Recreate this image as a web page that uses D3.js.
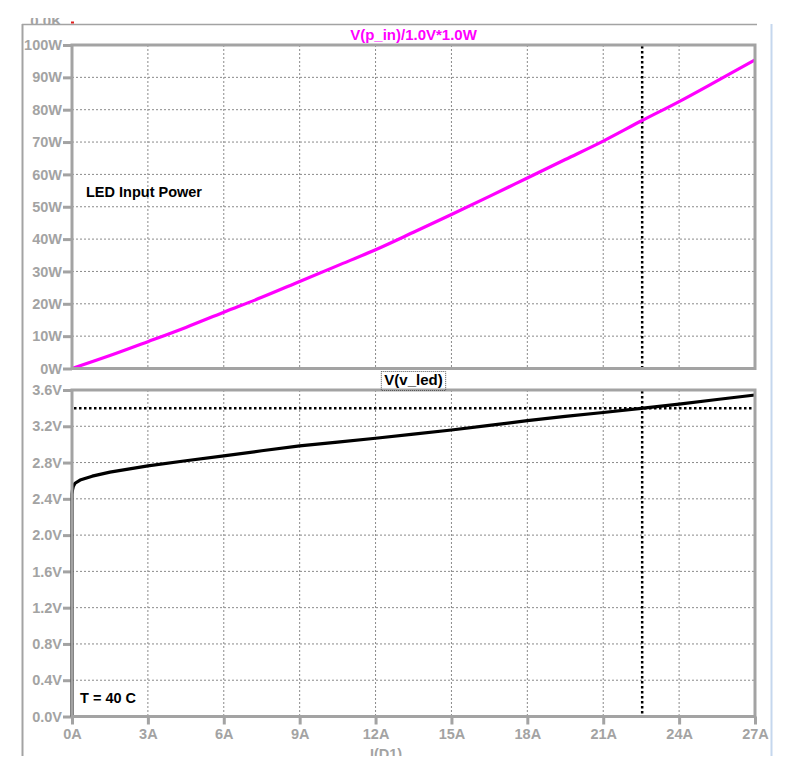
<!DOCTYPE html>
<html><head><meta charset="utf-8">
<script src="https://cdn.jsdelivr.net/npm/d3@7"></script>
<style>
html,body{margin:0;padding:0;background:#fff;}
svg{display:block;font-family:"Liberation Sans",Arial,sans-serif;}
</style></head>
<body><svg id="c" width="791" height="782"></svg>
<script>
// ---- data ----
const xTicks = [0,3,6,9,12,15,18,21,24,27];
const powerTicks = [0,10,20,30,40,50,60,70,80,90,100];
const voltTicks = [0,0.4,0.8,1.2,1.6,2.0,2.4,2.8,3.2,3.6];

const powerI = [0,1.5,3,4.5,6,7.5,9,10.5,12,13.5,15,16.5,18,19.5,21,22.5,24,25.5,27];
const powerW = [0,4.0,8.3,12.7,17.4,22.0,26.9,31.8,36.7,42.1,47.6,53.2,58.9,64.6,70.3,76.5,82.5,88.9,95.4];

const voltI = [0,0,0.02,0.05,0.12,0.32,0.8,1.5,3,4.5,6,7.5,9,10.5,12,13.5,15,16.5,18,19.5,21,22.5,24,25.5,27];
const voltV = [0,2.45,2.5,2.535,2.572,2.607,2.65,2.695,2.763,2.82,2.873,2.93,2.983,3.025,3.068,3.113,3.159,3.21,3.262,3.31,3.352,3.397,3.445,3.495,3.545];

const cursorI = 22.54;
const cursorV = 3.398;

const topTitle = "V(p_in)/1.0V*1.0W";
const botTitle = "V(v_led)";
const xLabel = "I(D1)";

// ---- layout ----
const svg = d3.select("#c");
const L = 72, R = 755;
const x = d3.scaleLinear().domain([0,27]).range([L,R]);
const yP = d3.scaleLinear().domain([0,100]).range([368.5,45]);
const yV = d3.scaleLinear().domain([0,3.6]).range([716.5,390]);
const gray = "#a3a3a3";
const gridC = "#8a8a8a";

const defs = svg.append("defs");
defs.append("clipPath").attr("id","win")
  .append("rect").attr("x",0).attr("y",0).attr("width",791).attr("height",756);
defs.append("clipPath").attr("id","topcut")
  .append("rect").attr("x",0).attr("y",18).attr("width",791).attr("height",6);
const root = svg.append("g").attr("clip-path","url(#win)");

// remnants of panel above
svg.append("g").attr("clip-path","url(#topcut)")
  .append("text").attr("x",62).attr("y",25.5).attr("text-anchor","end")
  .attr("font-size",15).attr("font-weight","bold").attr("fill",gray).text("0.0K");
svg.append("rect").attr("x",71).attr("y",21.5).attr("width",3).attr("height",2).attr("fill","#e02020");

// outer window lines
root.append("line").attr("x1",22).attr("x2",757).attr("y1",24.5).attr("y2",24.5).attr("stroke",gray).attr("stroke-width",1.5);
root.append("line").attr("x1",22.5).attr("x2",22.5).attr("y1",24).attr("y2",756).attr("stroke",gray).attr("stroke-width",2);
root.append("line").attr("x1",771.5).attr("x2",771.5).attr("y1",24).attr("y2",756).attr("stroke","#c5d7ee").attr("stroke-width",2);

function grid(g, yScale, yt, yr){
  g.selectAll(".vg").data(xTicks.slice(1,-1)).join("line")
    .attr("x1",d=>x(d)).attr("x2",d=>x(d)).attr("y1",yr[0]).attr("y2",yr[1])
    .attr("stroke",gridC).attr("stroke-width",1).attr("stroke-dasharray","2,2");
  g.selectAll(".hg").data(yt.slice(1,-1)).join("line")
    .attr("x1",L).attr("x2",R).attr("y1",d=>yScale(d)).attr("y2",d=>yScale(d))
    .attr("stroke",gridC).attr("stroke-width",1).attr("stroke-dasharray","2,2");
}
function styleAxis(g){
  g.select(".domain").remove();
  g.selectAll(".tick line").attr("stroke",gray).attr("stroke-width",3);
  g.selectAll(".tick text").attr("fill",gray).attr("font-size",14.5).attr("font-weight","bold")
    .attr("font-family","Liberation Sans, Arial, sans-serif");
}

// ---- top panel ----
const gt = root.append("g");
grid(gt, yP, powerTicks, [45,368.5]);
const axP = gt.append("g").attr("transform",`translate(${L},0)`)
  .call(d3.axisLeft(yP).tickValues(powerTicks).tickFormat(d=>d+"W").tickSize(9).tickPadding(1));
styleAxis(axP);
gt.append("line").attr("x1",x(cursorI)).attr("x2",x(cursorI)).attr("y1",46).attr("y2",367)
  .attr("stroke","#000").attr("stroke-width",2.5).attr("stroke-dasharray","2.5,2.5");
gt.append("path").datum(powerI.map((d,i)=>[d,powerW[i]]))
  .attr("d", d3.line().x(d=>x(d[0])).y(d=>yP(d[1])).curve(d3.curveMonotoneX))
  .attr("fill","none").attr("stroke","#ff00ff").attr("stroke-width",3.2);
gt.append("rect").attr("x",L).attr("y",45).attr("width",R-L).attr("height",368.5-45)
  .attr("fill","none").attr("stroke",gray).attr("stroke-width",3);
gt.append("text").attr("x",(L+R)/2).attr("y",40).attr("text-anchor","middle")
  .attr("font-size",15).attr("font-weight","bold").attr("fill","#ff00ff").text(topTitle);
gt.append("text").attr("x",86).attr("y",197)
  .attr("font-size",14.5).attr("font-weight","bold").attr("fill","#000").text("LED Input Power");

// ---- bottom panel ----
const gb = root.append("g");
grid(gb, yV, voltTicks, [390,716.5]);
const axV = gb.append("g").attr("transform",`translate(${L},0)`)
  .call(d3.axisLeft(yV).tickValues(voltTicks).tickFormat(d=>d3.format(".1f")(d)+"V").tickSize(9).tickPadding(1));
styleAxis(axV);
const axX = gb.append("g").attr("transform",`translate(0,716.5)`)
  .call(d3.axisBottom(x).tickValues(xTicks).tickFormat(d=>d+"A").tickSize(8).tickPadding(4));
styleAxis(axX);
gb.append("line").attr("x1",x(cursorI)).attr("x2",x(cursorI)).attr("y1",391).attr("y2",715)
  .attr("stroke","#000").attr("stroke-width",2.5).attr("stroke-dasharray","2.5,2.5");
gb.append("line").attr("x1",L+2).attr("x2",R-1).attr("y1",yV(cursorV)).attr("y2",yV(cursorV))
  .attr("stroke","#000").attr("stroke-width",2.5).attr("stroke-dasharray","2.5,2.5");
gb.append("path").datum(voltI.map((d,i)=>[d,voltV[i]]))
  .attr("d", d3.line().x(d=>x(d[0])).y(d=>yV(d[1])).curve(d3.curveLinear))
  .attr("fill","none").attr("stroke","#000").attr("stroke-width",3.2).attr("stroke-linejoin","round");
gb.append("rect").attr("x",L).attr("y",390).attr("width",R-L).attr("height",716.5-390)
  .attr("fill","none").attr("stroke",gray).attr("stroke-width",3);
gb.append("text").attr("x",80).attr("y",703)
  .attr("font-size",14.5).attr("font-weight","bold").attr("fill","#000").text("T = 40 C");
const bt = gb.append("text").attr("x",(L+R)/2).attr("y",385).attr("text-anchor","middle")
  .attr("font-size",15).attr("font-weight","bold").attr("fill","#000").text(botTitle);
const bb = bt.node().getBBox();
gb.append("rect").attr("x",bb.x-3).attr("y",371.5).attr("width",bb.width+6).attr("height",19)
  .attr("fill","none").attr("stroke","#555").attr("stroke-width",1).attr("stroke-dasharray","1,1");
root.append("text").attr("x",386).attr("y",759).attr("text-anchor","middle")
  .attr("font-size",14.5).attr("font-weight","bold").attr("fill",gray).text(xLabel);
</script></body></html>
